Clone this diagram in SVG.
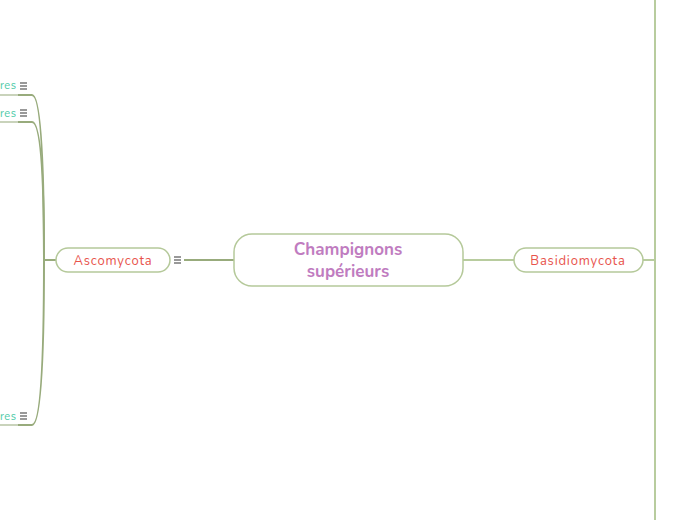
<svg xmlns="http://www.w3.org/2000/svg" width="697" height="520" viewBox="0 0 697 520">
<style>
.node{fill:#ffffff;stroke:#b5c99a;stroke-width:1.5}
.lbl{font-family:"Nunito","Lato","Liberation Sans",sans-serif;font-size:13px;fill:#e8534c;text-anchor:middle;letter-spacing:0.8px}
.title{font-family:"Nunito","Lato","Liberation Sans",sans-serif;font-size:17px;font-weight:bold;fill:#c07cc0;text-anchor:middle}
.sub{font-family:"Nunito","Lato","Liberation Sans",sans-serif;font-size:11px;fill:#4cc9a6;letter-spacing:0.5px}
.ic{stroke:#555;stroke-width:1.2}
.cl{fill:none;stroke:#98ab7c;stroke-width:2}
.cr{fill:none;stroke:#b8cc9e;stroke-width:2}
.ul{fill:none;stroke:#c9d3bb;stroke-width:2}
</style>
<defs>
<g id="menu"><line class="ic" x1="0" y1="0" x2="7" y2="0"/><line class="ic" x1="0" y1="3" x2="7" y2="3"/><line class="ic" x1="0" y1="6" x2="7" y2="6"/></g>
</defs>
<g id="connectors">
<path class="cl" d="M184,260 H234"/>
<path class="cl" d="M44,260 H56"/>
<path class="cl" d="M17,95 H32 Q44,95 44,260"/>
<path class="cl" d="M17,122 H32 Q44,122 44,260"/>
<path class="cl" d="M17,425 H32 Q44,425 44,260"/>
<path class="cr" d="M463,260 H514"/>
<path class="cr" d="M643,260 H655"/>
<path class="cr" d="M655,0 V520"/>
</g>
<g id="root">
<rect class="node" x="234" y="234" width="229" height="52" rx="18" stroke-width="2"/>
<text class="title" x="348" y="255">Champignons</text>
<text class="title" x="348" y="277">supérieurs</text>
</g>
<g id="ascomycota">
<rect class="node" x="56" y="248" width="114" height="24" rx="12"/>
<text class="lbl" x="113" y="265">Ascomycota</text>
<use href="#menu" x="174" y="257"/>
</g>
<g id="basidiomycota">
<rect class="node" x="514" y="248" width="129" height="24" rx="12"/>
<text class="lbl" x="578" y="265">Basidiomycota</text>
</g>
<g id="sub1">
<path class="ul" d="M0,95 H18"/>
<text class="sub" x="0" y="89">res</text>
<use href="#menu" x="20" y="83"/>
</g>
<g id="sub2">
<path class="ul" d="M0,122 H18"/>
<text class="sub" x="0" y="117">res</text>
<use href="#menu" x="20" y="110"/>
</g>
<g id="sub3">
<path class="ul" d="M0,425 H18"/>
<text class="sub" x="0" y="420">res</text>
<use href="#menu" x="20" y="413"/>
</g>
</svg>
